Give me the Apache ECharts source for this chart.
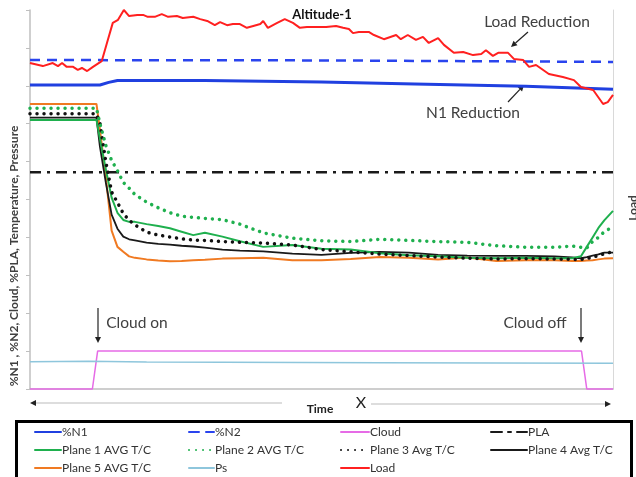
<!DOCTYPE html>
<html>
<head>
<meta charset="utf-8">
<script src="https://cdn.jsdelivr.net/npm/echarts@6/dist/echarts.min.js"></script>
<style>html,body{margin:0;padding:0;background:#fff}#c{width:636px;height:477px}</style>
</head>
<body>
<div id="c"></div>
<script>
// ---- data (time axis 0..100, values 0..100) ----
var n1T = [0, 12, 13.5, 15, 30, 50, 66, 85, 100];
var n1V = [80.2, 80.2, 80.9, 81.4, 81.4, 81.0, 80.5, 79.9, 79.1];
var n2T = [0, 50, 100];
var n2V = [86.8, 86.7, 86.3];
var cloudT = [0, 10.7, 11.6, 94.6, 95.5, 100];
var cloudV = [0, 0, 10, 10, 0, 0];
var plaT = [0, 100];
var plaV = [57.2, 57.2];
var psT = [0, 10, 20, 60, 100];
var psV = [7.2, 7.3, 7.1, 6.9, 6.8];
var tempT = [0, 11.4, 12, 13, 14, 15, 16, 17, 18, 20, 22, 24, 26, 28, 30, 33, 36, 40, 45, 50, 55, 60, 65, 70, 75, 80, 85, 90, 93, 94.5, 95.5, 96.5, 97.5, 98.5, 100];
var plane1 = [71.0, 71.0, 66.0, 58.0, 50.5, 46.5, 44.6, 44.1, 44.1, 43.5, 43.0, 42.4, 41.5, 40.6, 41.2, 40.2, 39.0, 37.5, 38.0, 37.0, 36.8, 35.8, 35.3, 35.0, 34.6, 34.5, 34.6, 34.5, 34.5, 35.0, 37.5, 40.0, 42.5, 44.5, 47.0];
var plane2 = [74.1, 74.1, 70.0, 64.3, 60.3, 57.6, 54.5, 53.0, 51.3, 49.3, 47.8, 46.5, 45.6, 45.3, 45.0, 44.7, 43.5, 41.2, 39.8, 39.1, 38.9, 39.5, 39.2, 38.9, 38.7, 37.8, 37.4, 37.4, 37.7, 37.4, 37.2, 38.9, 40.0, 41.5, 42.8];
var plane3 = [72.6, 72.6, 70.1, 60.0, 52.0, 49.2, 46.3, 44.5, 43.3, 41.4, 40.6, 40.1, 39.6, 39.3, 39.2, 38.9, 38.7, 38.5, 38.0, 36.8, 36.2, 35.6, 35.2, 34.8, 34.5, 34.3, 34.4, 34.3, 34.2, 34.2, 34.4, 34.8, 35.2, 35.7, 36.2];
var plane4 = [71.6, 71.6, 63.9, 54.5, 46.0, 42.3, 40.2, 39.5, 39.2, 38.6, 38.3, 38.1, 37.8, 37.6, 37.3, 36.8, 36.5, 36.3, 35.7, 35.4, 35.9, 36.2, 36.0, 35.4, 35.2, 35.1, 35.1, 35.0, 34.7, 34.5, 34.8, 35.2, 35.5, 36.0, 36.0];
var plane5 = [75.2, 75.2, 68.3, 56.0, 41.8, 37.5, 36.2, 35.0, 34.6, 34.2, 33.9, 33.7, 33.8, 34.0, 34.1, 34.4, 34.5, 34.6, 34.0, 34.0, 34.3, 34.8, 34.6, 34.2, 34.7, 33.8, 34.0, 34.0, 33.8, 33.8, 33.9, 34.0, 34.2, 34.4, 34.5];
var loadT = [0, 2.2, 3.9, 4.8, 5.5, 6.3, 7.4, 8.2, 8.9, 9.8, 10.8, 12.3, 13.2, 14.2, 15.1, 16.1, 17.0, 18.4, 19.4, 20.2, 21.4, 22.6, 23.7, 25.2, 26.2, 28.0, 29.2, 30.4, 31.7, 32.6, 33.8, 34.8, 36.0, 37.2, 38.3, 39.5, 40.0, 40.8, 42.4, 43.7, 45.1, 46.3, 47.5, 49.7, 50.8, 52.5, 53.7, 54.7, 55.4, 56.4, 58.1, 59.0, 60.7, 62.8, 63.6, 64.8, 66.2, 67.4, 68.4, 70.0, 71.0, 72.7, 74.3, 76.0, 77.4, 78.2, 79.4, 80.3, 82.0, 83.0, 84.6, 85.6, 86.8, 89.0, 91.4, 93.3, 94.5, 96.6, 98.3, 99.1, 100];
var loadV = [86.0, 85.2, 86.0, 85.2, 86.0, 85.0, 85.0, 84.2, 84.7, 83.9, 85.0, 86.5, 91.3, 96.6, 97.4, 100, 98.4, 98.7, 98.7, 98.2, 98.2, 98.9, 98.2, 98.4, 97.9, 98.2, 97.6, 97.1, 96.0, 96.8, 96.0, 96.3, 96.3, 95.3, 95.8, 96.3, 97.1, 95.3, 96.6, 97.6, 96.6, 95.3, 95.5, 95.5, 95.5, 95.8, 95.3, 95.0, 93.9, 94.2, 94.2, 93.4, 92.3, 93.4, 92.3, 93.4, 92.1, 92.9, 91.3, 92.6, 90.8, 88.7, 88.9, 88.1, 88.4, 89.4, 87.9, 88.7, 88.7, 87.1, 86.8, 85.0, 85.5, 83.1, 82.3, 81.5, 79.7, 78.9, 75.2, 75.7, 77.6];

var seriesNames = ['%N1', '%N2', 'Cloud', 'PLA', 'Plane 1 AVG T/C', 'Plane 2 AVG T/C', 'Plane 3 Avg T/C', 'Plane 4 Avg T/C', 'Plane 5 AVG T/C', 'Ps', 'Load'];
var yTitle = '%N1 , %N2, Cloud, %PLA, Temperature, Pressure';

function zip(t, v) { return t.map(function (x, i) { return [x, v[i]]; }); }

var FONT = 'Lato, "Liberation Sans", sans-serif';
var dotType = [0.01, 7];

function mk(name, t, v, color, width, type, extra) {
  var s = {
    name: name, type: 'line', data: zip(t, v), symbol: 'none', showSymbol: false,
    clip: false, animation: false, silent: true,
    lineStyle: { color: color, width: width, type: type || 'solid' },
    itemStyle: { color: color }
  };
  if (extra) { for (var k in extra) s[k] = extra[k]; }
  return s;
}

var series = [
  mk(seriesNames[2], cloudT, cloudV, '#e66be6', 1.5),
  mk(seriesNames[9], psT, psV, '#8ec6dc', 1.5),
  mk(seriesNames[3], plaT, plaV, '#1a1a1a', 2.5, [11, 6, 3, 6]),
  mk(seriesNames[8], tempT, plane5, '#f07a22', 2),
  mk(seriesNames[7], tempT, plane4, '#1a1a1a', 1.8),
  mk(seriesNames[4], tempT, plane1, '#1fb04e', 2),
  mk(seriesNames[6], tempT, plane3, '#111111', 3.5, dotType),
  mk(seriesNames[5], tempT, plane2, '#1fb04e', 3.5, dotType),
  mk(seriesNames[0], n1T, n1V, '#2040e0', 3),
  mk(seriesNames[1], n2T, n2V, '#2a44ee', 2.5, [10, 7]),
  mk(seriesNames[10], loadT, loadV, '#ff2020', 2, 'solid', { yAxisIndex: 1 })
];
series[6].lineStyle.cap = 'round';
series[7].lineStyle.cap = 'round';

function legendCol(left, names, w) {
  return {
    orient: 'vertical', left: left, top: 426, padding: 0, itemGap: 6,
    itemWidth: w, itemHeight: 12, data: names, selectedMode: false,
    textStyle: { fontFamily: FONT, fontSize: 12, color: '#333', padding: [0, 0, 0, -4] },
    itemStyle: { opacity: 0, borderWidth: 0 },
    lineStyle: { type: 'inherit', cap: 'round' }
  };
}

function arrow(x1, y1, x2, y2, lineColor) {
  var ang = Math.atan2(y2 - y1, x2 - x1);
  var L = 6, W = 3;
  var bx = x2 - L * Math.cos(ang), by = y2 - L * Math.sin(ang);
  var px = -Math.sin(ang) * W, py = Math.cos(ang) * W;
  return [
    { type: 'line', shape: { x1: x1, y1: y1, x2: bx, y2: by }, style: { stroke: lineColor || '#222', lineWidth: 1.2 }, silent: true },
    { type: 'polygon', shape: { points: [[x2, y2], [bx + px, by + py], [bx - px, by - py]] }, style: { fill: '#222' }, silent: true }
  ];
}

function txt(x, y, text, size, weight, color, rot) {
  return {
    type: 'text', x: x, y: y, rotation: rot || 0, silent: true,
    style: { text: text, fontFamily: FONT, fontSize: size, fontWeight: weight || 'normal', fill: color || '#404040', align: 'center', verticalAlign: 'middle' }
  };
}

var graphics = [
  txt(322, 15, 'Altitude-1', 13, 'bold', '#111'),
  txt(537, 22, 'Load Reduction', 15.5),
  txt(473, 113, 'N1 Reduction', 15.5),
  txt(137, 323, 'Cloud on', 15.5),
  txt(535, 323, 'Cloud off', 15.5),
  txt(14, 256, yTitle, 12, 'bold', '#404040', Math.PI / 2),
  txt(633, 208, 'Load', 12, 'bold', '#404040', Math.PI / 2),
  txt(320, 409, 'Time', 12, 'bold', '#222'),
  txt(361, 403, 'X', 16, 'normal', '#222'),
  { type: 'rect', shape: { x: 16.5, y: 421.5, width: 615, height: 70 }, style: { fill: 'none', stroke: '#000', lineWidth: 3 }, silent: true }
].concat(
  arrow(528, 32, 511, 47),
  arrow(508, 102, 524, 85),
  arrow(98, 308, 98, 343),
  arrow(581, 308, 581, 343),
  arrow(282, 403, 30, 403, '#bbb'),
  arrow(371, 404, 611, 404, '#bbb')
);

var chart = echarts.init(document.getElementById('c'), null, { renderer: 'canvas' });
chart.setOption({
  animation: false,
  backgroundColor: '#fff',
  textStyle: { fontFamily: FONT },
  grid: { left: 30, right: 23, top: 10, bottom: 88 },
  xAxis: {
    type: 'value', min: 0, max: 100,
    axisLine: { show: true, onZero: false, lineStyle: { color: '#bfbfbf', width: 1.5 } },
    axisTick: { show: false }, axisLabel: { show: false }, splitLine: { show: false }
  },
  yAxis: [
    {
      type: 'value', min: 0, max: 100, interval: 10,
      axisLine: { show: true, lineStyle: { color: '#bfbfbf', width: 1.5 } },
      axisTick: { show: true, length: 4, lineStyle: { color: '#bfbfbf', width: 1 } },
      axisLabel: { show: false }, splitLine: { show: false }
    },
    {
      type: 'value', min: 0, max: 100, position: 'right',
      axisLine: { show: true, lineStyle: { color: '#d9d9d9', width: 1 } },
      axisTick: { show: false }, axisLabel: { show: false }, splitLine: { show: false }
    }
  ],
  legend: [
    legendCol(34, [seriesNames[0], seriesNames[4], seriesNames[8]], 26),
    legendCol(188, [seriesNames[1], seriesNames[5], seriesNames[9]], 25),
    legendCol(340, [seriesNames[2], seriesNames[6], seriesNames[10]], 28),
    legendCol(490, [seriesNames[3], seriesNames[7]], 36)
  ],
  graphic: graphics,
  series: series
});
</script>
</body>
</html>
